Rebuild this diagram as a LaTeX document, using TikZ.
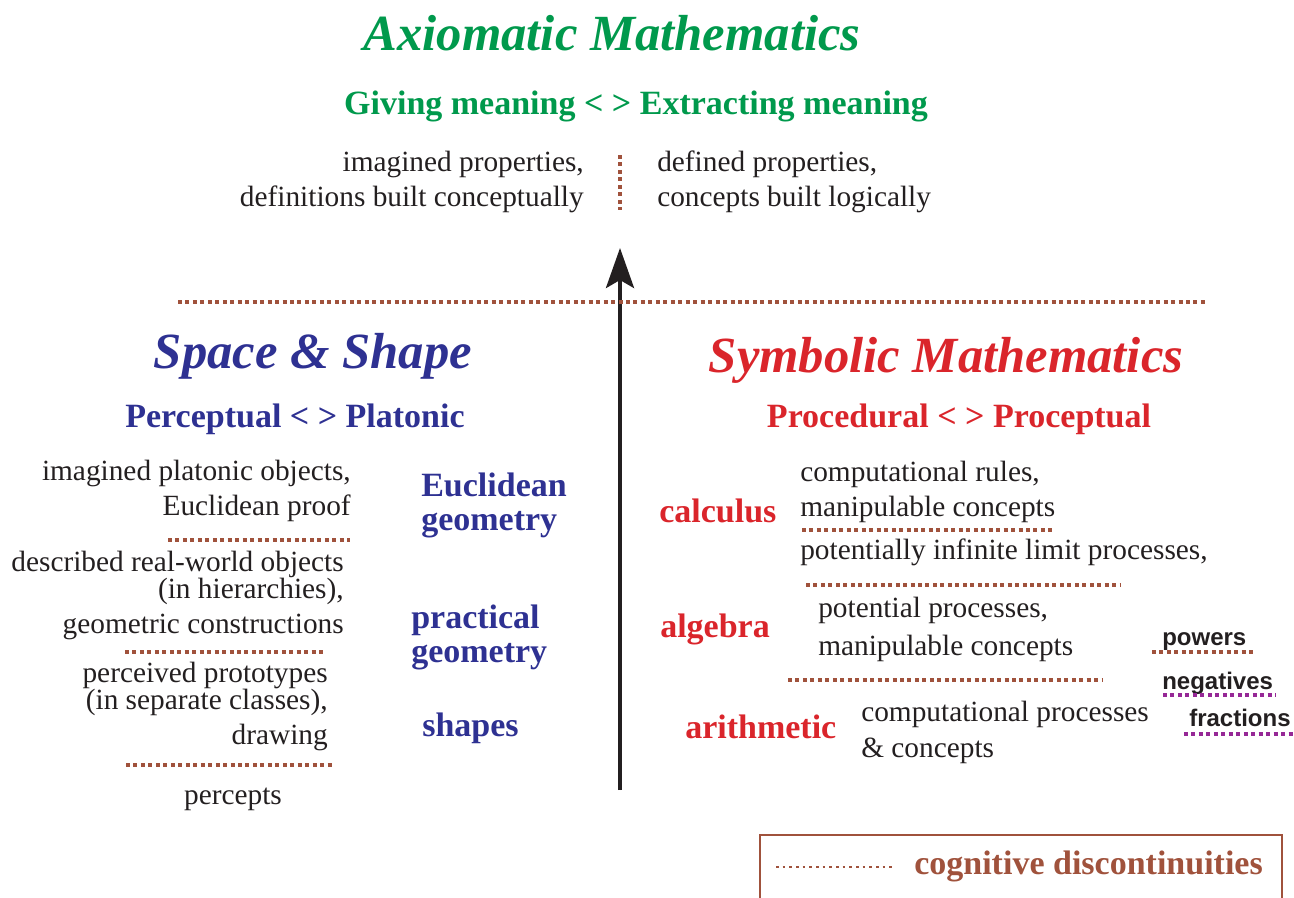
\documentclass[tikz,border=0pt]{standalone}
\usepackage{fontspec}
\setmainfont{Liberation Serif}
\newfontfamily\tagsans{Liberation Sans}
\usetikzlibrary{arrows.meta}

\begin{document}
\begin{tikzpicture}[x=0.75pt,y=0.75pt,yscale=-1,xscale=1,
    body/.style={inner sep=0.75pt,font=\fontsize{22}{26}\selectfont,text={rgb,255:red,35;green,31;blue,32}},
    bigtitle/.style={inner sep=0.75pt,font=\fontsize{38}{44}\selectfont\bfseries\itshape},
    subtitle/.style={inner sep=0.75pt,font=\fontsize{25.5}{25.5}\selectfont\bfseries},
    smalltag/.style={inner sep=0.75pt,font=\fontsize{18}{20}\selectfont\tagsans\bfseries,text={rgb,255:red,35;green,31;blue,32}},
    gapline/.style={draw={rgb,255:red,160;green,82;blue,60},line width=2.8pt,dash pattern=on 3pt off 2.6pt},
    gaplinepurple/.style={draw={rgb,255:red,150;green,40;blue,150},line width=2.8pt,dash pattern=on 3pt off 2.6pt}]
        \useasboundingbox (0,0) rectangle (1294,897);
        % axiomatic world
        \draw (612,50) node [anchor=base][bigtitle][text={rgb,255:red,0;green,153;blue,76}] (axtitle) {Axiomatic Mathematics};
        \draw (636,114) node [anchor=base][subtitle][text={rgb,255:red,0;green,153;blue,76}] (axsub) {Giving meaning < > Extracting meaning};
        \draw (585,206) node [anchor=base east][body][align=right] (axleft) {imagined properties,\\definitions built conceptually};
        \draw (656,206) node [anchor=base west][body][align=left] (axright) {defined properties,\\concepts built logically};
        \draw [gapline] (620,155) -- (620,210);
        % growth arrow
        \coordinate (arrowfoot) at (620,790);
        \coordinate (arrowtip) at (620,248);
        \draw [line width=3pt,draw={rgb,255:red,35;green,31;blue,32},fill={rgb,255:red,35;green,31;blue,32},-{Stealth[length=30pt,width=21pt,inset=6pt]}] (arrowfoot) -- (arrowtip);
        \draw [gapline] (178,302) -- (1205,302);
        % space and shape
        \draw (313,368) node [anchor=base][bigtitle][text={rgb,255:red,46;green,49;blue,146}] (sstitle) {Space \& Shape};
        \draw (295,427) node [anchor=base][subtitle][text={rgb,255:red,46;green,49;blue,146}] (sssub) {Perceptual < > Platonic};
        \draw (352,515) node [anchor=base east][body][align=right] (platonic) {imagined platonic objects,\\Euclidean proof};
        \draw [gapline] (168,540) -- (350,540);
        \draw (345,633) node [anchor=base east][body][align=right] (described) {described real-world objects\\[-6pt](in hierarchies),\\geometric constructions};
        \draw [gapline] (125,652) -- (325,652);
        \draw (329,744) node [anchor=base east][body][align=right] (perceived) {perceived prototypes\\[-6pt](in separate classes),\\drawing};
        \draw [gapline] (126,765) -- (333,765);
        \draw (233,804) node [anchor=base][body] (percepts) {percepts};
        \draw (420,530) node [anchor=base west][subtitle][align=left][text={rgb,255:red,46;green,49;blue,146}] (euclid) {Euclidean\\geometry};
        \draw (410,662) node [anchor=base west][subtitle][align=left][text={rgb,255:red,46;green,49;blue,146}] (practical) {practical\\geometry};
        \draw (421,736) node [anchor=base west][subtitle][text={rgb,255:red,46;green,49;blue,146}] (shapes) {shapes};
        % symbolic mathematics
        \draw (946,372) node [anchor=base][bigtitle][text={rgb,255:red,218;green,37;blue,43}] (symtitle) {Symbolic Mathematics};
        \draw (959,427) node [anchor=base][subtitle][text={rgb,255:red,218;green,37;blue,43}] (symsub) {Procedural < > Proceptual};
        \draw (658,522) node [anchor=base west][subtitle][text={rgb,255:red,218;green,37;blue,43}] (calculus) {calculus};
        \draw (659,637) node [anchor=base west][subtitle][text={rgb,255:red,218;green,37;blue,43}] (algebra) {algebra};
        \draw (684,738) node [anchor=base west][subtitle][text={rgb,255:red,218;green,37;blue,43}] (arith) {arithmetic};
        \draw (799,516) node [anchor=base west][body][align=left] (calcrules) {computational rules,\\manipulable concepts};
        \draw [gapline] (802,530) -- (1052,530);
        \draw (799,559) node [anchor=base west][body] (limits) {potentially infinite limit processes,};
        \draw [gapline] (806,585) -- (1120,585);
        \draw (817,655) node [anchor=base west][body][align=left] (algproc) {potential processes,\\[2pt]manipulable concepts};
        \draw [gapline] (788,680) -- (1102,680);
        \draw (860,757) node [anchor=base west][body][align=left] (arithproc) {computational processes\\[1pt]\& concepts};
        % extensions of number
        \draw (1161,645) node [anchor=base west][smalltag] (powers) {powers};
        \draw [gapline] (1152,652) -- (1255,652);
        \draw (1161,689) node [anchor=base west][smalltag] (negatives) {negatives};
        \draw [gaplinepurple] (1163,695) -- (1276,695);
        \draw (1188,726) node [anchor=base west][smalltag] (fractions) {fractions};
        \draw [gaplinepurple] (1184,734) -- (1294,734);
        % key
        \draw [line width=1.8pt,draw={rgb,255:red,160;green,82;blue,60}] (760,900) -- (760,835) -- (1282,835) -- (1282,900);
        \draw [draw={rgb,255:red,160;green,82;blue,60},line width=2pt,dash pattern=on 2pt off 3pt] (776,867) -- (895,867);
        \draw (913,874) node [anchor=base west][subtitle][text={rgb,255:red,160;green,82;blue,60}] (keytext) {cognitive discontinuities};
\end{tikzpicture}
\end{document}
